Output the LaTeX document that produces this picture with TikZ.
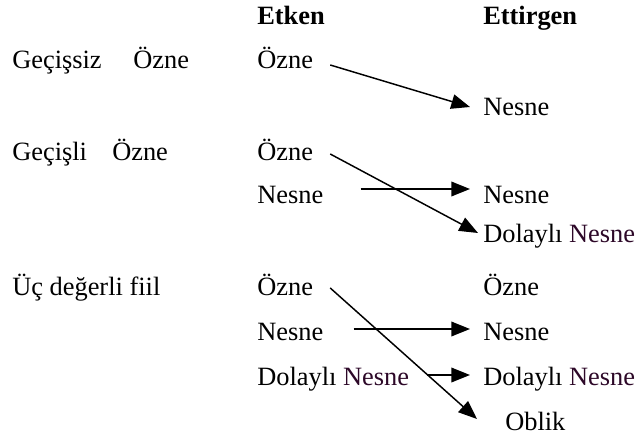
\documentclass[tikz,border=0pt]{standalone}
\usepackage{fontspec}
\setmainfont{Liberation Serif}
\usepackage{tikz}
\usetikzlibrary{calc, arrows.meta}
\definecolor{nesnerenk}{RGB}{45,8,40}

\begin{document}
\begin{tikzpicture}[x=0.75pt, y=-0.75pt,
        lbl/.style={anchor=base west, inner sep=0pt, font=\fontsize{19.8}{23}\selectfont},
        hd/.style={lbl, font=\fontsize{19.8}{23}\selectfont\bfseries},
        arr/.style={-{Triangle[length=14pt,width=11pt]}, line width=1.1pt}]
            \useasboundingbox (0,0) rectangle (636,439);
            % basliklar
            \node[hd] (etken) at (257,25) {Etken};
            \node[hd] (ettirgen) at (483,25) {Ettirgen};
            % sol sutun
            \node[lbl] (gs) at (12,68) {Geçişsiz};
            \node[lbl] (gsoz) at (133,68) {Özne};
            \node[lbl] (gl) at (12,160) {Geçişli};
            \node[lbl] (gloz) at (112,160) {Özne};
            \node[lbl] (uc) at (12,295) {Üç değerli fiil};
            % gecissiz
            \node[lbl] (e1oz) at (257,68) {Özne};
            \node[lbl] (r1ne) at (483,115) {Nesne};
            % gecisli
            \node[lbl] (e2oz) at (257,160) {Özne};
            \node[lbl] (e2ne) at (257,203) {Nesne};
            \node[lbl] (r2ne) at (483,203) {Nesne};
            \node[lbl] (r2dn) at (483,242) {Dolaylı \textcolor{nesnerenk}{Nesne}};
            % uc degerli
            \node[lbl] (e3oz) at (257,295) {Özne};
            \node[lbl] (e3ne) at (257,340) {Nesne};
            \node[lbl] (e3dn) at (257,385) {Dolaylı \textcolor{nesnerenk}{Nesne}};
            \node[lbl] (r3oz) at (483,295) {Özne};
            \node[lbl] (r3ne) at (483,340) {Nesne};
            \node[lbl] (r3dn) at (483,385) {Dolaylı \textcolor{nesnerenk}{Nesne}};
            \node[lbl] (r3ob) at (505,430) {Oblik};
            % oklar
            \draw[arr] ($(e1oz.base east)+(17,-3)$) -- ($(r1ne.base west)+(-13,-8)$);
            \draw[arr] ($(e2oz.base east)+(17,-6)$) -- ($(r2dn.base west)+(-5,-9)$);
            \draw[arr] ($(e2ne.base east)+(37,-14)$) -- ($(r2ne.base west)+(-13,-14)$);
            \draw[arr] ($(e3oz.base east)+(17,-7)$) -- ($(r3ob.base west)+(-28,-11)$);
            \draw[arr] ($(e3ne.base east)+(30,-11)$) -- ($(r3ne.base west)+(-13,-11)$);
            \draw[arr] ($(e3dn.base east)+(18,-10)$) -- ($(r3dn.base west)+(-13,-10)$);
        \end{tikzpicture}
\end{document}
